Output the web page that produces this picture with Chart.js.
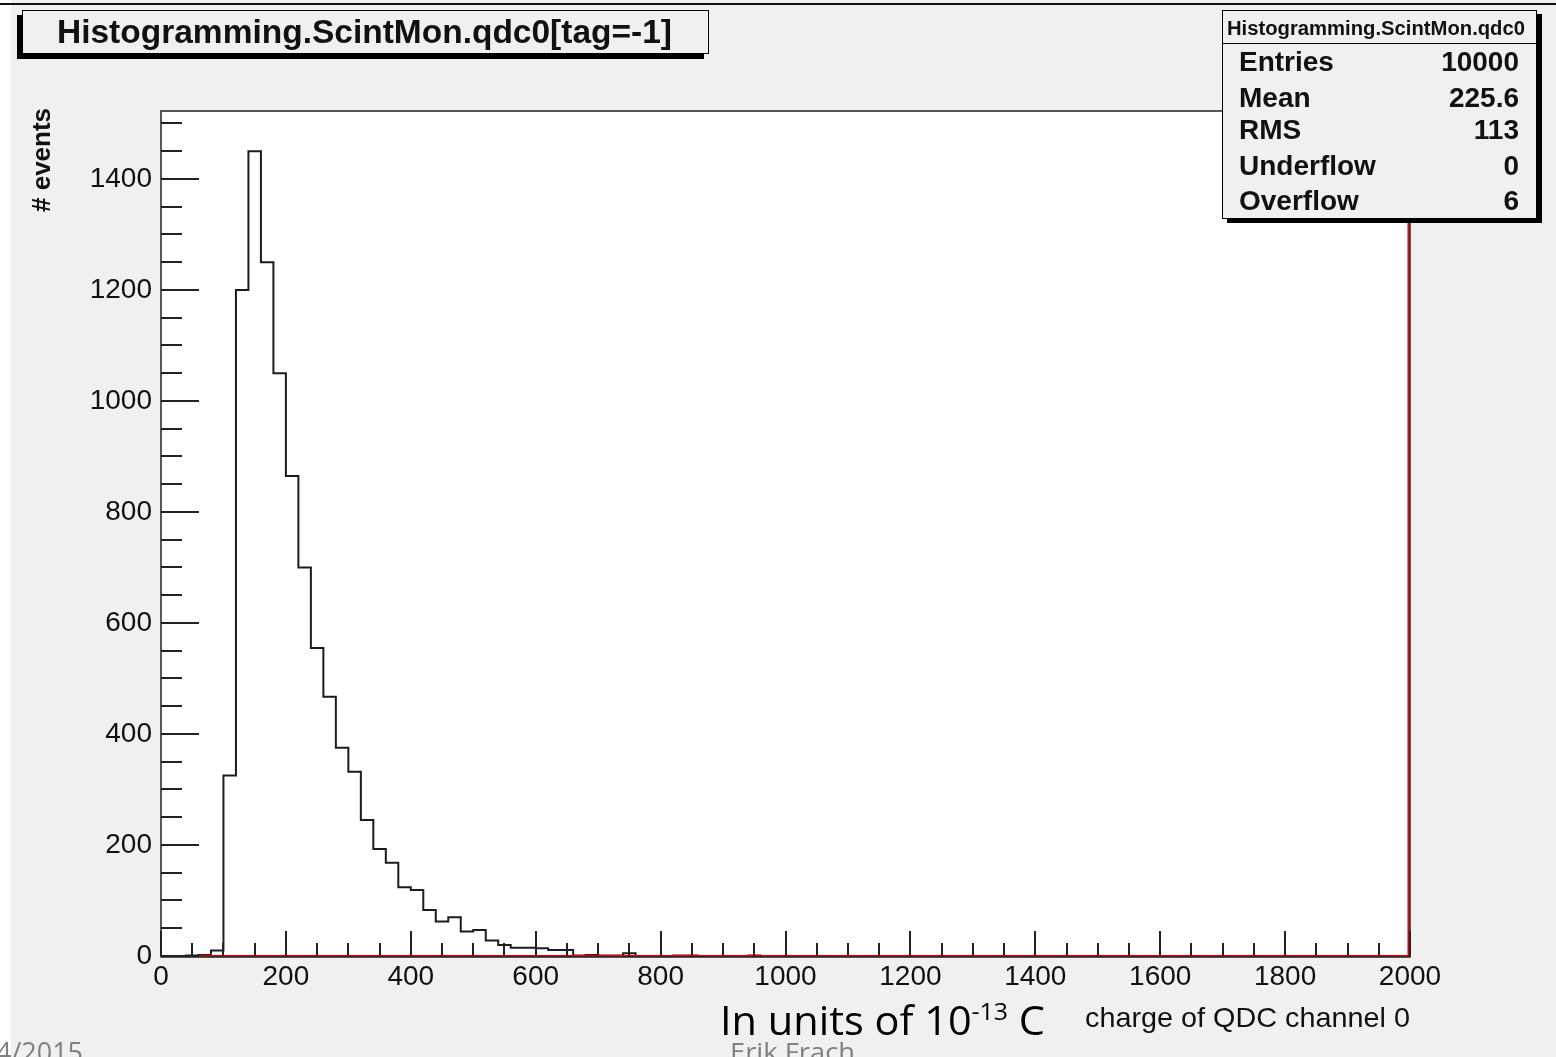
<!DOCTYPE html>
<html lang="en">
<head>
    <meta charset="UTF-8">
    <title>Histogramming.ScintMon.qdc0</title>
    <style>
        html, body { margin: 0; padding: 0; }
        body { width: 1556px; height: 1057px; background: #f0f0f0; position: relative; overflow: hidden;
               font-family: 'Liberation Sans', Arial, sans-serif; }
        #chart { position: absolute; left: 0; top: 0; z-index: 1; }
        .abs { position: absolute; white-space: nowrap; z-index: 2; }
        #leftStrip { left: 0; top: 0; width: 11px; height: 1057px; background: #fff; z-index: 0; }
        #topLine { left: 0; top: 3px; width: 1556px; height: 2px; background: #111; }
        #titleBox { left: 22px; top: 10px; width: 685px; height: 42px; border: 1px solid #000;
                    background: #f0f0f0; box-shadow: -5px 5px 0 #000; }
        #titleText { left: 57px; top: 13px; font-weight: bold; font-size: 33px; line-height: 38px; color: #111; }
        #stats { left: 1222px; top: 10px; width: 313px; height: 207px; border: 1px solid #000;
                 background: #f0f0f0; box-shadow: 5px 4px 0 #000; }
        #statsHead { left: 0; top: 0; width: 313px; height: 32px; border-bottom: 1px solid #000; }
        #statsHeadText { left: 1227px; top: 16px; font-weight: bold; font-size: 20px; line-height: 24px; color: #111; }
        .row { font-weight: bold; font-size: 28px; line-height: 30px; color: #111; }
        .lab { left: 1239px; }
        .val { right: 37px; text-align: right; }
        #yTitle { left: 28px; top: 212px; font-weight: bold; font-size: 26px; line-height: 26px; color: #111;
                  transform-origin: left top; transform: rotate(-90deg); }
        #xTitle { left: 1085px; top: 1002px; font-size: 28px; line-height: 32px; color: #111; }
        #units { left: 720px; top: 996px; font-family: 'Open Sans', sans-serif; font-size: 40px; line-height: 48px; color: #000; }
        #units sup { font-size: 24px; vertical-align: 15px; line-height: 0; }
        .foot { font-family: 'Open Sans', sans-serif; color: #808080; font-size: 28px; line-height: 34px; }
    </style>
</head>
<body>
    <div id="leftStrip" class="abs"></div>
    <canvas id="chart" width="1556" height="1057"></canvas>
    <div id="topLine" class="abs"></div>
    <div id="titleBox" class="abs"></div>
    <div id="titleText" class="abs">Histogramming.ScintMon.qdc0[tag=-1]</div>
    <div id="stats" class="abs"><div id="statsHead" class="abs"></div></div>
    <div id="statsHeadText" class="abs">Histogramming.ScintMon.qdc0</div>
    <div id="statsRows"></div>
    <div id="yTitle" class="abs"># events</div>
    <div id="xTitle" class="abs">charge of QDC channel 0</div>
    <div id="units" class="abs">In units of 10<sup>-13</sup> C</div>
    <div id="footDate" class="abs foot" style="left:-4px; top:1034px;">4/2015</div>
    <div id="footAuthor" class="abs foot" style="left:730px; top:1034px; font-size:26px;">Erik Frach</div>
</body>
<script src="https://cdn.jsdelivr.net/npm/chart.js@4.4.0/dist/chart.umd.min.js"></script>
<script>
    // histogram: 100 bins of width 20 over 0..2000
    const binWidth = 20;
    const xMin = 0;
    const xMax = 2000;
    const counts = [
        0, 0, 1, 2, 10, 325, 1200, 1450, 1250, 1050,
        865, 700, 555, 467, 375, 332, 245, 193, 168, 124,
        119, 83, 62, 70, 44, 47, 28, 20, 15, 15,
        14, 11, 11, 1, 2, 1, 1, 5, 0, 0,
        0, 1, 1, 0, 0, 0, 0, 1, 0, 0,
        0, 0, 0, 0, 0, 0, 0, 0, 0, 0,
        0, 0, 0, 0, 0, 0, 0, 0, 0, 0,
        0, 0, 0, 0, 0, 0, 0, 0, 0, 0,
        0, 0, 0, 0, 0, 0, 0, 0, 0, 0,
        0, 0, 0, 0, 0, 0, 0, 0, 0, 0
    ];
    const yMax = 1522.5;
    const xTickValues = [0, 200, 400, 600, 800, 1000, 1200, 1400, 1600, 1800, 2000];
    const yTickValues = [0, 200, 400, 600, 800, 1000, 1200, 1400];

    const statLabels = ['Entries', 'Mean', 'RMS', 'Underflow', 'Overflow'];
    const statValues = ['10000', '225.6', '113', '0', '6'];
    const statRowY = [47, 83, 115, 151, 186];

    // stats box rows
    const rows = document.getElementById('statsRows');
    statLabels.forEach((l, i) => {
        rows.insertAdjacentHTML('beforeend',
            `<div class="abs row lab" style="top:${statRowY[i]}px">${l}</div>` +
            `<div class="abs row val" style="top:${statRowY[i]}px">${statValues[i]}</div>`);
    });

    // squeeze text to the widths measured on the picture
    function fitWidth(id, w) {
        const el = document.getElementById(id);
        const r = el.getBoundingClientRect().width;
        el.style.transformOrigin = 'left top';
        el.style.transform = `scaleX(${w / r})`;
    }
    fitWidth('titleText', 615);
    fitWidth('statsHeadText', 298);
    fitWidth('xTitle', 325);
    fitWidth('units', 325);
    fitWidth('footDate', 87);
    fitWidth('footAuthor', 125);

    const points = counts.map((c, i) => ({ x: xMin + i * binWidth, y: c }));
    points.push({ x: xMax, y: counts[counts.length - 1] });

    // ROOT-style frame: white pad, inward ticks, red line along bottom/right
    const rootFrame = {
        id: 'rootFrame',
        beforeDatasetsDraw(chart) {
            const { ctx, chartArea: a } = chart;
            ctx.save();
            ctx.fillStyle = '#fff';
            ctx.fillRect(a.left, a.top, a.right - a.left, a.bottom - a.top);
            ctx.restore();
        },
        afterDatasetsDraw(chart) {
            const { ctx, chartArea: a, scales: { x, y } } = chart;
            ctx.save();
            ctx.strokeStyle = '#e00000';
            ctx.lineWidth = 2;
            ctx.beginPath();
            ctx.moveTo(a.left, a.bottom);
            ctx.lineTo(a.right - 1, a.bottom);
            ctx.moveTo(a.right - 1.5, a.top);
            ctx.lineTo(a.right - 1.5, a.bottom);
            ctx.stroke();

            ctx.strokeStyle = '#222';
            ctx.lineWidth = 2;
            ctx.beginPath();
            for (let v = 0; v <= yMax; v += 50) {
                const py = Math.round(y.getPixelForValue(v));
                const len = v % 200 === 0 ? 38 : 21;
                ctx.moveTo(a.left, py);
                ctx.lineTo(a.left + len, py);
            }
            for (let v = xMin; v <= xMax; v += 50) {
                const px = Math.round(x.getPixelForValue(v));
                const len = v % 200 === 0 ? 25 : 13;
                ctx.moveTo(px, a.bottom);
                ctx.lineTo(px, a.bottom - len);
            }
            ctx.stroke();

            ctx.lineWidth = 1.5;
            ctx.strokeRect(a.left, a.top, a.right - a.left, a.bottom - a.top + 1);
            ctx.restore();
        }
    };

    const tickFont = { family: "'Liberation Sans', Arial, sans-serif", size: 28 };
    const plainLabel = v => String(v);

    new Chart(document.getElementById('chart').getContext('2d'), {
        type: 'line',
        data: {
            datasets: [{
                data: points,
                stepped: 'before',
                borderColor: '#1c1c1c',
                borderWidth: 2,
                pointRadius: 0,
                fill: false
            }]
        },
        options: {
            responsive: false,
            animation: false,
            events: [],
            layout: { padding: { left: 0, right: 146, top: 111, bottom: 61 } },
            plugins: { legend: { display: false }, tooltip: { enabled: false } },
            scales: {
                x: {
                    type: 'linear',
                    min: xMin,
                    max: xMax,
                    afterBuildTicks: s => { s.ticks = xTickValues.map(v => ({ value: v })); },
                    afterFit: s => { s.height = 40; },
                    grid: { display: false, drawTicks: false },
                    border: { display: false },
                    ticks: { font: tickFont, color: '#111', padding: 4, maxRotation: 0, autoSkip: false,
                             callback: plainLabel }
                },
                y: {
                    min: 0,
                    max: yMax,
                    afterBuildTicks: s => { s.ticks = yTickValues.map(v => ({ value: v })); },
                    afterFit: s => { s.width = 161; },
                    grid: { display: false, drawTicks: false },
                    border: { display: false },
                    ticks: { font: tickFont, color: '#111', padding: 9, autoSkip: false,
                             callback: plainLabel }
                }
            }
        },
        plugins: [rootFrame]
    });
</script>
</html>
